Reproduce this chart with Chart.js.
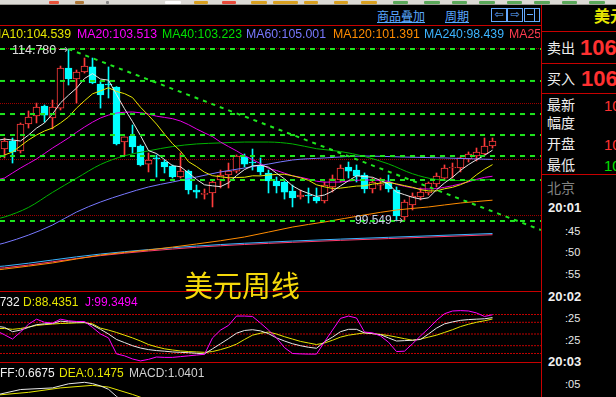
<!DOCTYPE html>
<html>
<head>
<meta charset="utf-8">
<script src="https://cdn.jsdelivr.net/npm/chart.js@4.4.1/dist/chart.umd.min.js"></script>
<style>
  html, body { margin: 0; padding: 0; background: #000; }
  body { position: relative; width: 616px; height: 397px; overflow: hidden; font-family: "Liberation Sans", Arial, sans-serif; font-size: 12px; color: #fff; }
  .a { position: absolute; white-space: nowrap; line-height: 1; z-index: 3; }
  .cn { font-family: "Noto Sans CJK SC", sans-serif; }
  canvas { position: absolute; left: 0; z-index: 1; }
  .hl { position: absolute; height: 1px; background: #c80000; z-index: 2; }
  .vl { position: absolute; width: 1px; background: #c80000; z-index: 2; }
  #toolbar { position: absolute; left: 0; top: 0; width: 616px; height: 5px; background: #dcdad5; border-bottom: 1px solid #9c9a94; box-sizing: border-box; }
  #toolbar i { position: absolute; top: 1px; height: 3px; border-radius: 1px; }
  .lnk { color: #5aa8ff; text-decoration: underline; font-size: 12px; }
  .btn { position: absolute; top: 8px; width: 14px; height: 12px; border: 1px solid #64aaff; color: #64aaff; font: 11px/12px "DejaVu Sans", sans-serif; text-align: center; z-index: 3; }
  #maLegend { position: absolute; left: 0; top: 28px; width: 540px; height: 14px; overflow: hidden; z-index: 3; font-size: 12.3px; }
  #maLegend span { position: absolute; top: 0; white-space: nowrap; line-height: 1; }
  .rp { position: absolute; left: 547px; font-size: 14px; color: #f0f0f0; z-index: 3; line-height: 1; white-space: nowrap; }
  .big { position: absolute; font: bold 22px/1 "Liberation Sans", Arial, sans-serif; color: #ff3030; z-index: 3; }
  .tm { position: absolute; font: 11px/1 "Liberation Sans", Arial, sans-serif; color: #e8e8e8; left: 565px; z-index: 3; }
  .tb { position: absolute; font: bold 13px/1 "Liberation Sans", Arial, sans-serif; color: #f0f0f0; left: 548px; z-index: 3; }
</style>
</head>
<body>
<div id="toolbar"></div>

<span class="a cn lnk" style="left:377px;top:10px;">商品叠加</span>
<span class="a cn lnk" style="left:445px;top:10px;">周期</span>
<div class="btn" style="left:491px;">&#8678;</div>
<div class="btn" style="left:507px;">&#8680;</div>
<div class="btn" style="left:524px;"><div style="position:absolute;left:9px;top:0;width:1px;height:12px;background:#64aaff;"></div><div style="position:absolute;left:2px;top:5px;width:6px;height:1px;background:#64aaff;"></div></div>

<div id="maLegend">
  <span style="left:-9px;color:#e6e600;">MA10:104.539</span>
  <span style="left:77px;color:#ff00ff;">MA20:103.513</span>
  <span style="left:162px;color:#00e000;">MA40:103.223</span>
  <span style="left:246px;color:#7878ff;">MA60:105.001</span>
  <span style="left:333px;color:#ff8c00;">MA120:101.391</span>
  <span style="left:424px;color:#3cb4ff;">MA240:98.439</span>
  <span style="left:509px;color:#ff3c50;">MA250</span>
</div>

<canvas id="main" width="541" height="265" style="top:26px;width:541px;height:265px;"></canvas>
<canvas id="kdj" width="541" height="70" style="top:292px;width:541px;height:70px;"></canvas>
<canvas id="macd" width="541" height="34" style="top:363px;width:541px;height:34px;"></canvas>

<div class="hl" style="left:0;top:25px;width:541px;"></div>
<div class="hl" style="left:0;top:291px;width:541px;"></div>
<div class="hl" style="left:0;top:362px;width:541px;"></div>
<div class="vl" style="left:541px;top:5px;height:392px;"></div>
<div class="hl" style="left:541px;top:31px;width:75px;"></div>
<div class="hl" style="left:541px;top:63px;width:75px;"></div>
<div class="hl" style="left:541px;top:93px;width:75px;"></div>
<div class="hl" style="left:541px;top:174px;width:75px;"></div>

<span class="a" style="left:12px;top:43.5px;font-size:12.5px;color:#dcdcdc;">114.780</span>
<span class="a" style="left:58px;top:43px;font:12px/1 'DejaVu Sans',sans-serif;color:#b8b8b8;">&#8594;</span>
<span class="a" style="left:355px;top:214px;color:#c8d0e6;">99.549</span>
<span class="a" style="left:393px;top:214px;font:12px/1 'DejaVu Sans',sans-serif;color:#b8b8b8;">&#8594;</span>
<span class="a cn" style="left:184px;top:269.5px;font-size:29px;color:#f5d90a;">美元周线</span>

<div style="position:absolute;left:0;top:296px;width:540px;height:13px;overflow:hidden;z-index:3;">
  <span class="a" style="left:-35px;top:0;color:#f0f0f0;">K:92.0732</span>
  <span class="a" style="left:23px;top:0;color:#e6e600;">D:88.4351</span>
  <span class="a" style="left:85px;top:0;color:#ff00ff;">J:99.3494</span>
</div>
<div style="position:absolute;left:0;top:367px;width:540px;height:13px;overflow:hidden;z-index:3;">
  <span class="a" style="left:-12px;top:0;color:#f0f0f0;">DIFF:0.6675</span>
  <span class="a" style="left:59px;top:0;color:#e6e600;">DEA:0.1475</span>
  <span class="a" style="left:129px;top:0;color:#d0d0d0;">MACD:1.0401</span>
</div>

<span class="a cn" style="left:594px;top:7px;font-size:16px;font-weight:bold;color:#e6e600;">美元</span>
<span class="rp cn" style="top:40px;">卖出</span>
<span class="big" style="left:580px;top:36.5px;">106</span>
<span class="rp cn" style="top:71px;">买入</span>
<span class="big" style="left:581px;top:67.5px;">106</span>
<span class="rp cn" style="top:97px;">最新</span>
<span class="a" style="left:604px;top:97.5px;font-size:15px;color:#ff3030;">10</span>
<span class="rp cn" style="top:115px;">幅度</span>
<span class="rp cn" style="top:136px;">开盘</span>
<span class="a" style="left:604px;top:136.5px;font-size:15px;color:#ff3030;">10</span>
<span class="rp cn" style="top:157px;">最低</span>
<span class="a" style="left:604px;top:157.5px;font-size:15px;color:#00e000;">10</span>
<span class="rp cn" style="top:179.5px;color:#808080;">北京</span>
<span class="tb" style="top:201px;">20:01</span>
<span class="tm" style="top:225.5px;">:45</span>
<span class="tm" style="top:247px;">:50</span>
<span class="tm" style="top:269px;">:55</span>
<span class="tb" style="top:289.5px;">20:02</span>
<span class="tm" style="top:313px;">:25</span>
<span class="tm" style="top:335px;">:25</span>
<span class="tb" style="top:355px;">20:03</span>
<span class="tm" style="top:379px;">:05</span>

<script>
// weekly bars, oldest first
const opens = [105.92,106.63,105.75,108.14,108.85,109.73,108.67,109.55,113.10,112.12,
  112.74,113.19,111.68,111.68,111.41,106.54,107.07,106.19,104.59,105.13,
  104.77,104.42,103.44,103.97,102.29,101.90,102.03,103.18,103.62,103.97,
  105.21,104.77,104.42,103.80,103.09,103.00,102.20,101.67,101.85,101.67,
  101.32,102.56,103.18,104.33,104.06,103.62,102.38,102.73,103.00,102.29,
  99.90,100.96,101.67,102.03,102.82,103.35,104.24,104.24,105.04,105.30,
  105.48,106.19];
const highs = [106.90,106.90,108.23,109.29,109.99,109.82,110.26,113.27,114.78,112.92,
  113.98,113.98,111.95,113.19,111.45,107.00,108.05,106.28,105.57,105.39,
  104.95,104.51,105.57,104.06,102.73,102.38,103.18,104.06,104.68,105.39,
  105.48,105.92,105.13,104.06,103.44,103.18,102.73,102.29,102.47,102.47,
  103.00,103.62,104.51,104.77,104.51,103.80,103.35,103.35,103.62,102.56,
  101.41,102.03,102.47,103.00,103.80,104.51,104.68,105.21,105.66,106.01,
  106.90,106.90];
const lows = [105.13,104.68,105.57,107.78,108.23,108.31,107.69,109.38,111.59,109.99,
  112.65,111.70,109.55,110.44,106.28,105.39,105.57,104.42,103.89,103.44,
  103.80,103.35,103.35,101.94,101.58,101.49,100.79,102.47,102.47,103.80,
  104.33,104.06,103.62,102.03,102.03,101.49,100.79,101.49,101.14,101.14,
  101.14,102.11,103.00,103.35,103.00,102.03,102.03,102.29,102.11,99.549,
  99.60,100.52,101.41,101.85,102.56,103.18,103.35,103.89,104.77,104.86,
  105.39,106.01];
const closes = [106.63,105.66,108.14,108.76,109.64,108.93,109.64,113.10,112.12,112.74,
  113.27,111.77,110.71,111.59,106.37,106.99,106.10,104.51,104.95,105.04,
  104.33,103.44,103.97,102.29,102.11,101.99,103.00,103.62,103.97,105.30,
  104.59,104.68,103.89,103.09,102.65,102.11,101.58,101.85,101.76,101.32,
  102.73,103.27,104.24,103.97,103.53,102.38,103.00,102.82,102.38,99.99,
  101.23,101.76,102.11,102.91,103.53,104.24,104.33,105.13,105.48,105.66,
  106.19,106.63];

// moving averages, one value per bar starting with the bar just left of the window (index -1)
const ma5 = [106.68,106.80,106.72,106.63,107.16,107.77,108.23,109.02,110.01,110.69,111.31,
  112.17,112.60,112.12,112.02,110.74,109.49,108.35,107.11,105.78,105.52,
  104.99,104.45,104.35,103.81,103.23,102.75,102.66,102.59,102.93,103.57,
  104.10,104.43,104.49,104.31,103.78,103.28,102.66,102.26,101.99,101.72,
  101.85,102.19,102.66,103.11,103.55,103.48,103.42,103.14,102.82,102.11,
  101.88,101.64,101.49,101.60,102.31,102.91,103.42,104.03,104.54,104.97,
  105.36,105.82];
const ma10 = [105.04,105.39,105.66,106.19,106.72,107.16,107.52,107.78,108.23,108.76,109.54,
  110.20,110.81,111.07,111.35,111.02,110.83,110.48,109.62,108.90,108.13,
  107.24,106.40,105.73,104.80,104.37,103.87,103.56,103.47,103.37,103.40,
  103.42,103.55,103.54,103.62,103.67,103.69,103.55,103.37,103.15,102.75,
  102.57,102.43,102.46,102.55,102.64,102.66,102.81,102.90,102.96,102.83,
  102.68,102.53,102.32,102.21,102.21,102.40,102.53,102.76,103.07,103.64,
  104.13,104.54];
const ma20 = [103.18,103.35,103.80,104.24,104.64,105.04,105.52,106.01,106.45,106.90,107.40,
  107.87,108.30,108.67,108.93,109.11,109.18,109.20,109.13,109.02,108.83,
  108.72,108.61,108.40,108.08,107.70,107.35,107.02,106.54,106.14,105.76,
  105.33,104.98,104.63,104.21,104.02,103.78,103.55,103.42,103.26,103.07,
  102.99,102.99,103.00,103.08,103.15,103.18,103.18,103.14,103.06,102.79,
  102.62,102.48,102.39,102.38,102.42,102.53,102.67,102.83,103.02,103.23,
  103.41,103.51];

// slower averages read at sample bars
const ma40Bars = [-1, 0, 3, 6, 9, 12, 15, 18, 21, 24, 27, 30, 33, 36, 39, 42, 45, 48, 51, 54, 57, 61];
const ma40 = [99.72, 99.90, 100.75, 102.08, 103.33, 104.55, 105.32, 105.76, 106.14, 106.37, 106.46,
  106.54, 106.54, 106.37, 105.95, 105.70, 105.26, 104.60, 103.73, 103.22, 103.13, 103.22];
const ma60Bars = [-1, 0, 3, 6, 9, 12, 15, 18, 21, 24, 27, 30, 33, 36, 40, 45, 50, 55, 61];
const ma60 = [97.42, 97.60, 98.30, 99.19, 100.34, 101.23, 101.94, 102.56, 103.00, 103.44,
  103.89, 104.24, 104.59, 104.95, 105.13, 105.30, 105.21, 105.13, 105.00];
const ma120Bars = [-1, 0, 6, 12, 18, 24, 30, 36, 40, 45, 49, 53, 57, 61];
const ma120 = [95.20, 95.29, 95.83, 96.53, 96.98, 97.51, 98.13, 99.01, 99.46, 100.08, 100.52,
  100.79, 101.14, 101.39];
const longBars = [-1, 0, 12, 24, 36, 48, 61];
const ma240 = [95.50, 95.56, 96.62, 97.33, 97.77, 98.10, 98.44];
const ma250 = [95.35, 95.40, 96.48, 97.22, 97.66, 97.99, 98.33];

// drawn lines: golden-section levels between 114.780 and 99.549, and the falling trend line
const fibLevels = [114.78, 111.95, 109.02, 107.16, 105.30, 103.18, 99.549];
const trendBars = [8, 67.06];
const trendPrices = [114.78, 98.75];
const gridPrices = [114.82, 109.95, 104.99, 100.03];

// KDJ(9,3,3), index -1..61
const kdjK = [70, 67, 56, 60, 67, 74, 76, 77, 83, 81, 80.5, 80, 73, 62, 50, 36, 28, 20, 14, 10,
  7.5, 6, 4, 3, 2, 0.5, -1, 12, 25, 38, 52, 59, 61, 58, 51, 40, 32, 25, 20, 16, 13.5,
  30, 42, 56, 62, 62, 53, 51, 48, 40, 32, 33, 34, 36, 50, 65, 76, 81, 85, 87, 88, 89, 92.07];
const kdjD = [64, 64, 62, 64, 68, 72, 74, 75.5, 77, 77.5, 78.5, 79, 76, 65, 60, 54, 47, 40, 32, 23,
  17, 12, 9, 6.5, 5, 4, 3, 5, 10, 16, 24, 36, 47, 52, 55, 50, 43, 37, 31, 27, 23,
  27, 34, 42, 47, 50, 53, 51, 49, 46, 42, 38, 34, 37, 42, 47, 54, 61, 69, 75, 80, 84, 88.44];
const kdjJ = [58, 48, 37, 55, 75, 88, 80, 78, 88, 84, 82, 82, 67, 50, 40, -1, -6, -14, -19, -15,
  -9, -10, -10, -8, -6, -4, -2, 40, 60, 72, 96, 96, 95, 78, 60, 40, 15, 0, -1, -1.5, -1.5,
  30, 60, 90, 96, 91, 55, 53, 45, 29, 5, 6, 25, 45, 64, 85, 102, 109, 110, 109, 104, 95, 99.35];
const kdjLevels = [100, 80, 50, 20, 0];

// MACD pane, only its top edge is on screen
const diffBars = [-1, 2, 6, 8, 10, 11, 12, 13, 14, 15];
const diffVals = [1.18, 1.64, 1.78, 2.13, 2.26, 2.15, 1.95, 1.66, 1.05, 0.5];
const deaBars = [-1, 3, 7, 11, 13, 16, 17, 18];
const deaVals = [1.16, 1.40, 1.78, 2.00, 1.85, 1.22, 0.98, 0.75];

const xMin = -0.5625, xMax = 67.0625;

const fromBar = (vals, first) => vals.map((v, k) => ({ x: first + k, y: v }));
const zipXY = (xs, ys) => xs.map((x, k) => ({ x: x, y: ys[k] }));
const hline = v => [{ x: xMin, y: v }, { x: xMax, y: v }];

function lineSet(data, color, order, extra) {
  return Object.assign({ type: 'line', data: data, borderColor: color, borderWidth: 1,
    pointRadius: 0, tension: 0, fill: false, order: order }, extra || {});
}

function baseOptions(yMin, yMax) {
  return {
    responsive: false, animation: false, devicePixelRatio: 1, events: [],
    layout: { padding: 0 },
    plugins: { legend: { display: false }, tooltip: { enabled: false } },
    scales: {
      x: { type: 'linear', display: false, min: xMin, max: xMax, offset: false, grid: { display: false } },
      y: { type: 'linear', display: false, min: yMin, max: yMax, beginAtZero: false, grid: { display: false } }
    }
  };
}

// toolbar remnants at the very top
const icons = [[49,10,'#e8523a'],[75,9,'#b07a3a'],[106,3,'#888'],[165,16,'#fff'],[194,14,'#d8a020'],
  [222,14,'#e84a3a'],[251,16,'#d8a020'],[273,25,'#d8a020'],[304,14,'#d8a020'],[334,14,'#d8a020'],
  [361,16,'#d8a020'],[393,15,'#5aa85a'],[424,16,'#5aa85a'],[452,15,'#5aa85a'],[479,16,'#5aa85a'],
  [507,15,'#5aa85a'],[534,16,'#5aa85a'],[562,15,'#5aa85a'],[589,16,'#5aa85a']];
const tb = document.getElementById('toolbar');
icons.forEach(ic => {
  const el = document.createElement('i');
  el.style.left = ic[0] + 'px';
  el.style.width = ic[1] + 'px';
  el.style.background = ic[2];
  tb.appendChild(el);
});

const isUp = i => closes[i] >= opens[i];

const mainSets = [];
fibLevels.forEach(v => mainSets.push(lineSet(hline(v), '#1ee61e', 0, { borderWidth: 2, borderDash: [5, 5] })));
mainSets.push(lineSet(zipXY(trendBars, trendPrices), '#1ee61e', 0, { borderWidth: 2, borderDash: [4, 5] }));
mainSets.push(lineSet(fromBar(ma5, -1), '#e8e8e8', 1));
mainSets.push(lineSet(fromBar(ma10, -1), '#e6e600', 1));
mainSets.push(lineSet(fromBar(ma20, -1), '#e600e6', 1));
mainSets.push(lineSet(zipXY(ma40Bars, ma40), '#00b400', 2, { cubicInterpolationMode: 'monotone' }));
mainSets.push(lineSet(zipXY(ma60Bars, ma60), '#7878ff', 2, { cubicInterpolationMode: 'monotone' }));
mainSets.push(lineSet(zipXY(ma120Bars, ma120), '#ff8c00', 2, { cubicInterpolationMode: 'monotone' }));
mainSets.push(lineSet(zipXY(longBars, ma250), '#ff3c6e', 3, { cubicInterpolationMode: 'monotone' }));
mainSets.push(lineSet(zipXY(longBars, ma240), '#3cb4ff', 2, { cubicInterpolationMode: 'monotone' }));
mainSets.push({
  type: 'bar', order: 4, grouped: false, barThickness: 7, borderWidth: 1, borderSkipped: false,
  data: opens.map((o, i) => ({ x: i, y: [o, closes[i]] })),
  backgroundColor: ctx => isUp(ctx.dataIndex) ? '#000000' : '#00ffff',
  borderColor: ctx => isUp(ctx.dataIndex) ? '#ff3b3b' : '#00ffff'
});
mainSets.push({
  type: 'bar', order: 5, grouped: false, barThickness: 1, borderWidth: 0,
  data: highs.map((h, i) => ({ x: i, y: [lows[i], h] })),
  backgroundColor: ctx => isUp(ctx.dataIndex) ? '#ff3b3b' : '#00ffff'
});
gridPrices.forEach(v => mainSets.push(lineSet(hline(v), '#a00000', 10, { borderDash: [1, 1] })));

new Chart(document.getElementById('main'), {
  type: 'bar',
  data: { datasets: mainSets },
  options: baseOptions(93.346, 116.817)
});

const kdjSets = [
  lineSet(fromBar(kdjJ, -1), '#ff00ff', 1),
  lineSet(fromBar(kdjD, -1), '#e6e600', 2),
  lineSet(fromBar(kdjK, -1), '#e8e8e8', 1)
];
kdjLevels.forEach(v => kdjSets.push(lineSet(hline(v), '#c00000', 10, { borderDash: [2, 1] })));
new Chart(document.getElementById('kdj'), {
  type: 'line',
  data: { datasets: kdjSets },
  options: baseOptions(-21.8, 157.7)
});

new Chart(document.getElementById('macd'), {
  type: 'line',
  data: { datasets: [
    lineSet(zipXY(diffBars, diffVals), '#e8e8e8', 1),
    lineSet(zipXY(deaBars, deaVals), '#e6e600', 2)
  ] },
  options: baseOptions(1.0, 3.914)
});
</script>
</body>
</html>
